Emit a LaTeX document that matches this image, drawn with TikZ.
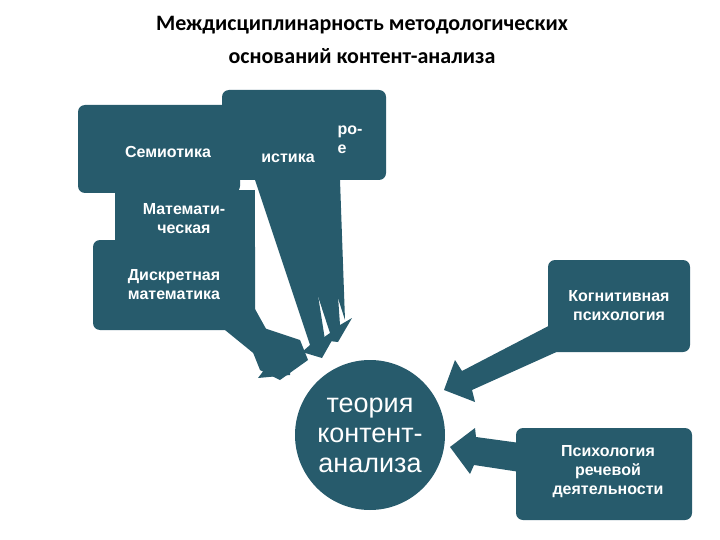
\documentclass[tikz,border=0pt]{standalone}
\usepackage{fontspec}
\setmainfont{Liberation Sans}
\newfontfamily\titlefont{Carlito}
\definecolor{tealb}{HTML}{275B6C}
\begin{document}
\begin{tikzpicture}[x=1pt,y=-1pt,
  box/.style={fill=tealb,rounded corners=7pt},
  lbl/.style={text=white,font=\bfseries\fontsize{16}{19}\selectfont,align=center},
  arr/.style={fill=tealb}]
\useasboundingbox (0,0) rectangle (720,540);
\node[font=\titlefont\bfseries\fontsize{22}{33}\selectfont,align=center] (title) at (362,40) {Междисциплинарность методологических\\оснований контент-анализа};
% left arrows (behind boxes)
\fill[arr] (255,180) -- (300,180) -- (325,340) -- (335,335) -- (322,358) -- (302,352) -- (310,345) -- cycle;
\fill[arr] (280,180) -- (330,180) -- (340,325) -- (352,318) -- (338,342) -- (320,340) -- (330,333) -- cycle;
\fill[arr] (300,180) -- (340,180) -- (345,320) -- cycle;
\fill[arr] (250,300) -- (275,345) -- (290,340) -- (290,375) -- (258,378) -- (268,365) -- (225,330) -- cycle;
\fill[arr] (240,320) -- (300,340) -- (308,360) -- (280,380) -- (260,370) -- cycle;
% boxes
\node[box,minimum width=164pt,minimum height=90pt] (ling) at (304,135) {};
\node[box,minimum width=162pt,minimum height=88pt] (sem) at (159,149) {};
\node[box,minimum width=140pt,minimum height=60pt,rounded corners=0pt] (mat) at (185,220) {};
\node[box,minimum width=162pt,minimum height=90pt] (disc) at (174,285) {};
\node[lbl] (semt) at (168,152) {Семиотика};
\node[lbl] (lingt) at (288,158) {истика};
\node[lbl,align=left] (lingt2) at (350,140) {ро-\\е};
\node[lbl] (matt) at (184,219) {Математи-\\ческая};
\node[lbl] (disct) at (174,285) {Дискретная\\математика};
% circle
\node[circle,fill=tealb,minimum size=150pt,text=white,font=\fontsize{27}{30}\selectfont,align=center,inner sep=0pt] (th) at (370,435) {теория\\контент-\\анализа};
% right boxes
\node[box,minimum width=142pt,minimum height=92pt] (cog) at (619,306) {};
\node[lbl] (cogt) at (619,306) {Когнитивная\\психология};
\node[box,minimum width=176pt,minimum height=92pt] (psy) at (604,474) {};
\node[lbl] (psyt) at (608,472) {Психология\\речевой\\деятельности};
% right arrows
\fill[arr] (560,320) -- (572,345) -- (472,390) -- (475,402) -- (444,390) -- (455,360) -- (462,371) -- cycle;
\fill[arr] (520,443) -- (520,472) -- (474,465) -- (470,474) -- (450,447) -- (475,428) -- (476,437) -- cycle;
\end{tikzpicture}
\end{document}
